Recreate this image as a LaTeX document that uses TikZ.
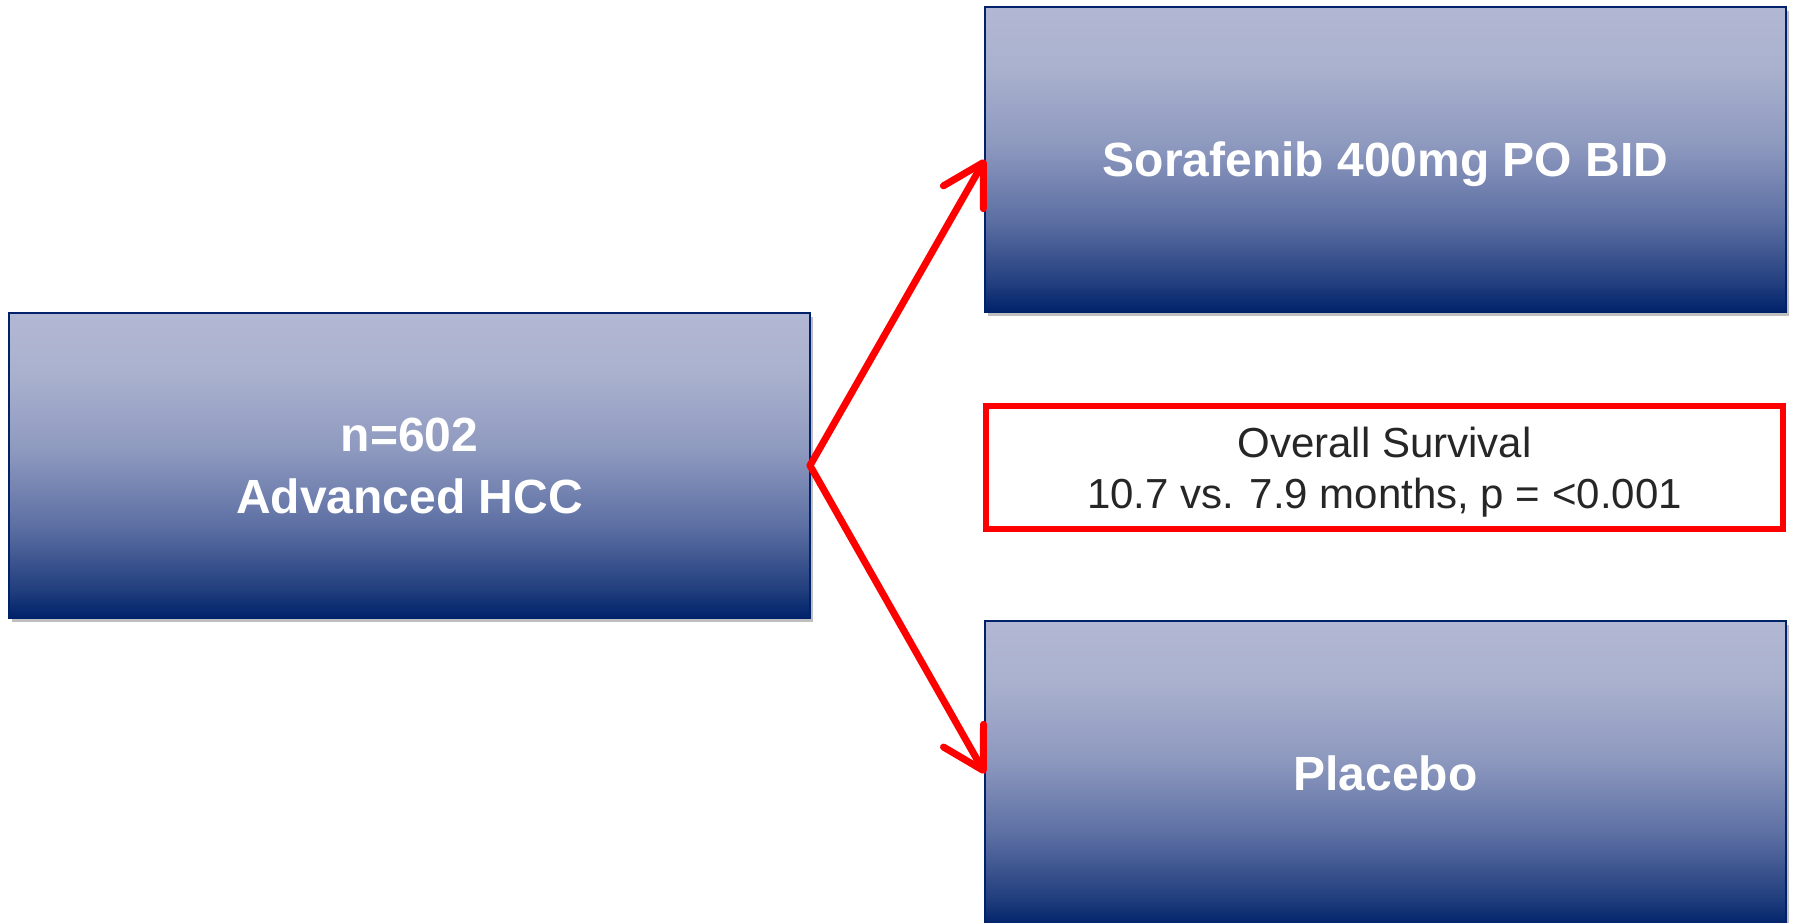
\documentclass[tikz,border=0pt]{standalone}
\usepackage{fontspec}
\setmainfont{Liberation Sans}
\usetikzlibrary{arrows.meta,shadows}
\definecolor{navy}{RGB}{0,34,106}
\definecolor{armA}{RGB}{36,64,127}
\definecolor{armB}{RGB}{92,111,163}
\definecolor{armC}{RGB}{142,153,191}
\definecolor{armD}{RGB}{170,177,206}
\definecolor{armE}{RGB}{178,184,211}
\definecolor{armred}{RGB}{255,0,0}
\pgfdeclareverticalshading{armfill}{100bp}{color(0bp)=(navy); color(25bp)=(navy); color(30bp)=(armA); color(40bp)=(armB); color(52.5bp)=(armC); color(65bp)=(armD); color(75bp)=(armE); color(100bp)=(armE)}
\begin{document}
\begin{tikzpicture}[x=1pt,y=-1pt,
  arm/.style={draw=navy,line width=1.5pt,shade,shading=armfill,minimum width=801pt,minimum height=305pt,inner sep=0pt,outer sep=0pt,text=white,text depth=0pt,font=\fontsize{48}{62}\selectfont\bfseries,align=center,drop shadow={shadow xshift=3pt,shadow yshift=-4pt,opacity=.25,fill=black}},
  result/.style={draw=armred,line width=6pt,minimum width=797pt,minimum height=123pt,inner sep=0pt,text=black!85,text depth=0pt,font=\fontsize{42}{51}\selectfont,align=center},
  rand/.style={draw=armred,line width=7pt,line cap=round,-{Straight Barb[round,length=40pt,width=46pt]}}]
\useasboundingbox (0,0) rectangle (1793,923);
\node[arm] (hcc) at (409.5,465.5) {n=602\\Advanced HCC};
\node[arm] (sora) at (1385.5,159.5) {Sorafenib 400mg PO BID};
\node[arm] (plac) at (1385.5,773.5) {Placebo};
\node[result] (os) at (1384.5,467.5) {Overall Survival\\10.7 vs. 7.9 months, p = <0.001};
\draw[rand] (hcc.east) -- (sora.west);
\draw[rand] (hcc.east) -- (plac.west);
\end{tikzpicture}
\end{document}
